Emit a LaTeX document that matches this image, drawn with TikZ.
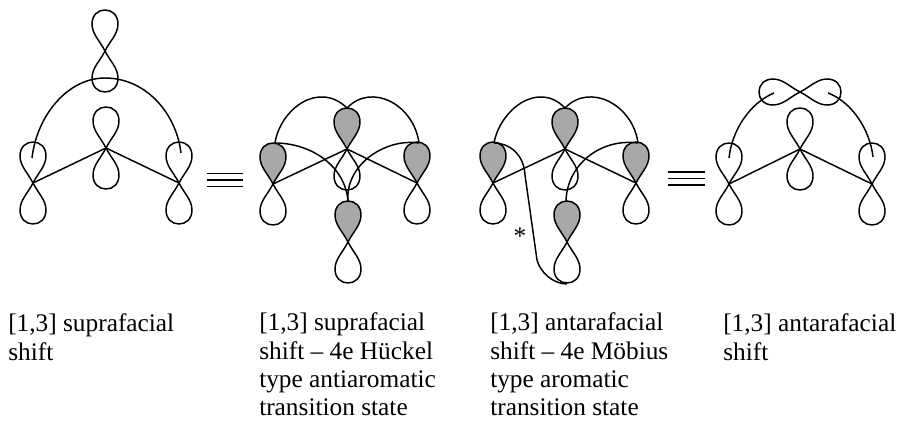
\documentclass[tikz,border=0pt]{standalone}
\usepackage{fontspec}
\setmainfont{Liberation Serif}
\usepackage{tikz}
\definecolor{lobegray}{RGB}{168,168,168}
\tikzset{
  bond/.style={line width=1.1pt,black},
  caption/.style={anchor=base west,align=left,inner sep=0pt,font=\fontsize{19}{21.15}\selectfont},
  lobe/.style={line width=1.1pt,draw=black},
  pics/orbital/.style={code={
    \draw[lobe] (0,0) .. controls (-5,-10) and (-13,-17) .. (-13,-27) .. controls (-13,-36) and (-7,-41) .. (0,-41) .. controls (7,-41) and (13,-36) .. (13,-27) .. controls (13,-17) and (5,-10) .. (0,0);
    \draw[lobe] (0,0) .. controls (-5,10) and (-13,17) .. (-13,27) .. controls (-13,36) and (-7,41) .. (0,41) .. controls (7,41) and (13,36) .. (13,27) .. controls (13,17) and (5,10) .. (0,0);
  }},
  pics/shorbital/.style={code={
    \draw[lobe,fill=lobegray] (0,0) .. controls (-5,-10) and (-13,-17) .. (-13,-27) .. controls (-13,-36) and (-7,-41) .. (0,-41) .. controls (7,-41) and (13,-36) .. (13,-27) .. controls (13,-17) and (5,-10) .. (0,0);
    \draw[lobe] (0,0) .. controls (-5,10) and (-13,17) .. (-13,27) .. controls (-13,36) and (-7,41) .. (0,41) .. controls (7,41) and (13,36) .. (13,27) .. controls (13,17) and (5,10) .. (0,0);
  }}
}
\begin{document}
\begin{tikzpicture}[x=0.75pt,y=-0.75pt]
\useasboundingbox (0,0) rectangle (899,421);
% first panel
\coordinate (atop) at (105,51);
\coordinate (amid) at (106,148);
\coordinate (aleft) at (33,183);
\coordinate (aright) at (179,183);
\coordinate (aarcl) at (32,158);
\coordinate (aarcr) at (181,153);
\pic at (atop) {orbital};
\pic at (amid) {orbital};
\pic at (aleft) {orbital};
\pic at (aright) {orbital};
\draw[bond] (aleft)--(amid)--(aright);
\draw[bond] (aarcl) .. controls (37,115) and (68,78) .. (105,78) .. controls (145,78) and (176,112) .. (aarcr);
% second panel
\coordinate (bleft) at (273,184);
\coordinate (bmid) at (347,149);
\coordinate (bright) at (417,183);
\coordinate (blow) at (348,242);
\pic at (bmid) {shorbital};
\pic at (bleft) {shorbital};
\pic at (bright) {shorbital};
\pic at (blow) {shorbital};
\coordinate (bleftt) at (275,143);
\coordinate (bmidt) at (347,108);
\coordinate (brightt) at (419,143);
\coordinate (blowt) at (348,201);
\draw[bond] (bleft)--(bmid)--(bright);
\draw[bond] (bleftt) .. controls (280,110) and (318,80) .. (bmidt);
\draw[bond] (bmidt) .. controls (372,82) and (414,105) .. (brightt);
\draw[bond] (bleftt) .. controls (310,143) and (345,165) .. (blowt);
\draw[bond] (brightt) .. controls (385,138) and (345,165) .. (blowt);
% third panel
\coordinate (cleft) at (493,183);
\coordinate (cmid) at (565,149);
\coordinate (cright) at (636,183);
\coordinate (clow) at (567,242);
\pic at (cmid) {shorbital};
\pic at (cleft) {shorbital};
\pic at (cright) {shorbital};
\pic at (clow) {shorbital};
\coordinate (cleftt) at (494,143);
\coordinate (cmidt) at (565,108);
\coordinate (crightt) at (638,143);
\coordinate (clowt) at (566,201);
\coordinate (clowb) at (567,284);
\draw[bond] (cleft)--(cmid)--(cright);
\draw[bond] (cleftt) .. controls (500,110) and (538,80) .. (cmidt);
\draw[bond] (cmidt) .. controls (590,82) and (633,105) .. (crightt);
\draw[bond] (crightt) .. controls (600,138) and (567,165) .. (clowt);
\draw[bond] (cleftt) .. controls (510,143) and (524,155) .. (525,175) -- (537,260) .. controls (540,272) and (553,284) .. (clowb);
\node[inner sep=0pt,font=\fontsize{19}{20}\selectfont] (cstar) at (520,236) {*};
% fourth panel
\coordinate (dleft) at (729,184);
\coordinate (dmid) at (800,149);
\coordinate (dright) at (872,184);
\coordinate (dtop) at (800,92);
\coordinate (darcl) at (729,158);
\coordinate (darcla) at (774,93);
\coordinate (darcr) at (873,157);
\coordinate (darcra) at (828,93);
\pic at (dleft) {orbital};
\pic at (dmid) {orbital};
\pic at (dright) {orbital};
\pic[rotate=90] at (dtop) {orbital};
\draw[bond] (dleft)--(dmid)--(dright);
\draw[bond] (darcl) .. controls (732,130) and (750,103) .. (darcla);
\draw[bond] (darcr) .. controls (870,130) and (852,102) .. (darcra);
% equivalence signs
\foreach \y in {173.5,180,186.5} \draw[line width=1pt] (207,\y)--(243,\y);
\foreach \y in {172,178.5,185} \draw[line width=1pt] (668,\y)--(705,\y);
% captions
\node[caption] (capa) at (8,360) {[1,3] suprafacial\\shift};
\node[caption] (capb) at (259,415.5) {[1,3] suprafacial\\shift -- 4e Hückel\\type antiaromatic\\transition state};
\node[caption] (capc) at (490,415.5) {[1,3] antarafacial\\shift -- 4e Möbius\\type aromatic\\transition state};
\node[caption] (capd) at (723,360) {[1,3] antarafacial\\shift};
\end{tikzpicture}
\end{document}
